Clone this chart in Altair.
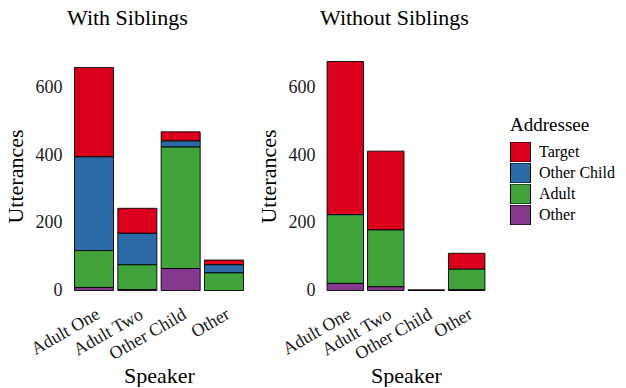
import altair as alt
import pandas as pd

speakers = ["Adult One", "Adult Two", "Other Child", "Other"]
addressees = ["Target", "Other Child", "Adult", "Other"]
stack_rank = {"Other": 0, "Adult": 1, "Other Child": 2, "Target": 3}

with_target = [264, 74, 27, 14]
with_other_child = [277, 93, 18, 24]
with_adult = [109, 73, 359, 52]
with_other = [9, 3, 65, 0]

without_target = [453, 233, 2, 47]
without_other_child = [0, 0, 0, 0]
without_adult = [203, 168, 0, 61]
without_other = [21, 11, 0, 2]

colors = ["#DA001B", "#2D6AA8", "#41A33C", "#84398F"]

FONT = "Liberation Serif, Times New Roman, serif"


def build(series):
    rows = []
    for addr, vals in zip(addressees, series):
        for sp, v in zip(speakers, vals):
            if v > 0:
                rows.append({"Speaker": sp, "Addressee": addr, "Utterances": v,
                             "rank": stack_rank[addr]})
    return pd.DataFrame(rows)


df_with = build([with_target, with_other_child, with_adult, with_other])
df_without = build([without_target, without_other_child, without_adult, without_other])

color_scale = alt.Scale(domain=addressees, range=colors)
y_scale = alt.Scale(domain=[-34, 711], nice=False, zero=False)


def panel(df, title, width):
    return alt.Chart(df).mark_bar(stroke="black", strokeWidth=0.9).encode(
        x=alt.X("Speaker:N", sort=speakers,
                scale=alt.Scale(paddingInner=0.1, paddingOuter=0.15),
                axis=alt.Axis(title="Speaker", labelAngle=330, labelAlign="right",
                              labelBaseline="top", labelPadding=3, labelFontSize=18,
                              labelFont=FONT, titleFont=FONT, titlePadding=2)),
        y=alt.Y("sum(Utterances):Q", scale=y_scale, stack="zero",
                axis=alt.Axis(title="Utterances", values=[0, 200, 400, 600],
                              labelPadding=6, titlePadding=8, labelFontSize=18,
                              labelFont=FONT, titleFont=FONT)),
        color=alt.Color("Addressee:N", scale=color_scale,
                        legend=alt.Legend(title="Addressee", labelFont=FONT, titleFont=FONT,
                                          orient="none", legendX=442, legendY=66,
                                          rowPadding=1, clipHeight=20)),
        order=alt.Order("rank:Q", sort="ascending"),
    ).properties(
        width=width, height=252,
        title=alt.TitleParams(title, anchor="start", frame="group", fontSize=22,
                              font=FONT, fontWeight="normal", color="black", offset=20, dx=-1),
    )


left = panel(df_with, "With Siblings", 182)
right = panel(df_without, "Without Siblings", 170)

chart = alt.hconcat(left, right, spacing=7).resolve_scale(y="shared").configure(
    font=FONT,
    padding={"left": 4, "top": 7, "right": 2, "bottom": 0},
).configure_view(stroke=None).configure_axis(
    grid=False, domain=False, ticks=False,
    labelFont=FONT, labelColor="#1a1a1a",
    titleFont=FONT, titleFontSize=22, titleFontWeight="normal", titleColor="black",
).configure_legend(
    titleFont=FONT, titleFontSize=19, titleFontWeight="normal", titleColor="black",
    labelFont=FONT, labelFontSize=16, labelColor="black",
    symbolType="square", symbolSize=400, symbolStrokeColor="black", symbolStrokeWidth=1,
    symbolOpacity=1, labelOffset=8, titlePadding=7,
)

chart.save("out.html", embed_options={"renderer": "svg", "actions": False})
